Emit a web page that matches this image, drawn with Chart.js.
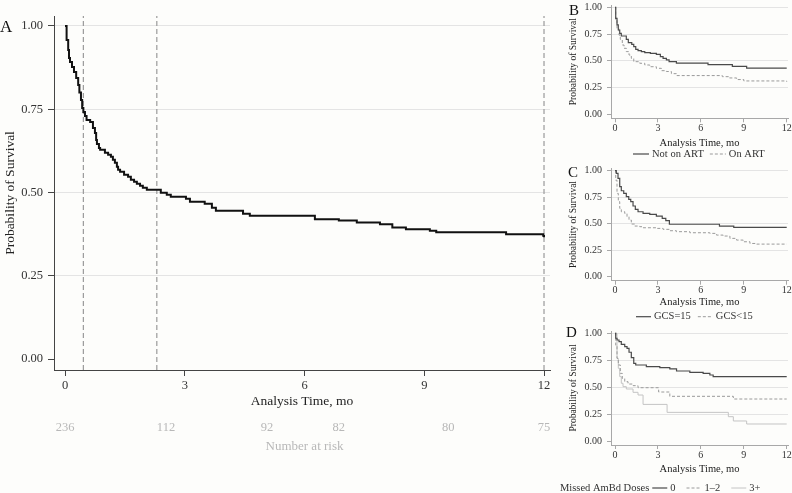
<!DOCTYPE html>
<html>
<head>
<meta charset="utf-8">
<script src="https://cdn.jsdelivr.net/npm/chart.js@4"></script>
<style>
  html, body { margin: 0; padding: 0; background: #fdfdfb; }
  #wrap { position: relative; width: 792px; height: 493px; overflow: hidden; }
  canvas { position: absolute; left: 0; top: 0; }
</style>
</head>
<body>
<div id="wrap">
  <canvas id="cA" width="792" height="493"></canvas>
  <canvas id="cB" width="792" height="493"></canvas>
  <canvas id="cC" width="792" height="493"></canvas>
  <canvas id="cD" width="792" height="493"></canvas>
</div>
<script>
// ---- данные (месяцы / доля выживших) ----
const xTicks = [0, 3, 6, 9, 12];
const yTicks = [0, 0.25, 0.5, 0.75, 1];

// A: все пациенты
const allTime = [0, 0.04, 0.08, 0.10, 0.125, 0.175, 0.225, 0.28, 0.33, 0.36, 0.40, 0.43, 0.46, 0.50, 0.54, 0.63, 0.70, 0.75, 0.78, 0.80, 0.85, 0.88, 1.00, 1.08, 1.15, 1.20, 1.25, 1.30, 1.33, 1.38, 1.48, 1.58, 1.65, 1.73, 1.80, 1.88, 1.95, 2.05, 2.40, 2.55, 2.65, 3.03, 3.13, 3.50, 3.68, 3.78, 4.46, 4.63, 6.26, 6.86, 7.31, 7.89, 8.20, 8.54, 9.14, 9.30, 11.05, 11.98, 12.0];
const allSurv = [1.00, 0.958, 0.928, 0.904, 0.892, 0.877, 0.862, 0.844, 0.823, 0.80, 0.778, 0.754, 0.742, 0.73, 0.718, 0.712, 0.694, 0.679, 0.658, 0.646, 0.634, 0.628, 0.619, 0.613, 0.607, 0.598, 0.589, 0.577, 0.568, 0.562, 0.553, 0.547, 0.538, 0.532, 0.526, 0.520, 0.514, 0.508, 0.499, 0.493, 0.487, 0.481, 0.472, 0.466, 0.454, 0.445, 0.436, 0.430, 0.420, 0.416, 0.410, 0.405, 0.395, 0.390, 0.385, 0.381, 0.375, 0.370, 0.366];
const refTimes = [0.46, 2.3, 12];
const riskTimes = [0, 2.53, 5.06, 6.86, 9.6, 12];
const riskCounts = [236, 112, 92, 82, 80, 75];

// B: АРТ
const noArtTime = [0, 0.05, 0.14, 0.23, 0.33, 0.44, 0.79, 0.93, 1.17, 1.31, 1.45, 1.61, 1.84, 2.08, 2.47, 2.89, 3.17, 3.36, 3.59, 3.78, 4.29, 6.5, 8.2, 9.2, 12];
const noArtSurv = [1.0, 0.897, 0.835, 0.788, 0.757, 0.732, 0.70, 0.67, 0.654, 0.632, 0.607, 0.595, 0.586, 0.576, 0.57, 0.561, 0.539, 0.523, 0.508, 0.492, 0.478, 0.465, 0.448, 0.432, 0.432];
const onArtTime = [0, 0.05, 0.14, 0.28, 0.37, 0.51, 0.63, 0.79, 0.98, 1.14, 1.31, 1.73, 2.08, 2.43, 2.89, 3.24, 3.59, 3.94, 4.29, 7.5, 8.0, 8.5, 9.0, 12];
const onArtSurv = [1.0, 0.88, 0.80, 0.74, 0.70, 0.648, 0.617, 0.586, 0.554, 0.523, 0.492, 0.477, 0.461, 0.445, 0.43, 0.408, 0.40, 0.38, 0.362, 0.352, 0.34, 0.325, 0.312, 0.305];

// C: GCS
const gcs15Time = [0, 0.09, 0.21, 0.33, 0.44, 0.61, 0.79, 0.96, 1.1, 1.26, 1.42, 1.61, 1.96, 2.43, 2.89, 3.3, 3.55, 3.8, 7.3, 8.3, 12];
const gcs15Surv = [1.0, 0.975, 0.928, 0.849, 0.811, 0.786, 0.755, 0.73, 0.708, 0.667, 0.635, 0.613, 0.597, 0.588, 0.572, 0.55, 0.53, 0.495, 0.478, 0.465, 0.465];
const gcsLowTime = [0, 0.05, 0.14, 0.23, 0.33, 0.44, 0.68, 0.84, 0.98, 1.14, 1.38, 1.73, 1.96, 2.89, 3.36, 3.83, 4.29, 5.23, 6.63, 7.09, 7.56, 8.03, 8.49, 8.96, 9.43, 9.9, 12];
const gcsLowSurv = [1.0, 0.91, 0.786, 0.708, 0.645, 0.613, 0.597, 0.566, 0.535, 0.497, 0.478, 0.472, 0.462, 0.456, 0.447, 0.434, 0.425, 0.415, 0.409, 0.393, 0.384, 0.362, 0.346, 0.33, 0.314, 0.308, 0.308];

// D: пропущенные дозы AmBd
const miss0Time = [0, 0.05, 0.14, 0.28, 0.44, 0.68, 0.84, 0.98, 1.14, 1.31, 1.45, 2.19, 3.13, 3.83, 4.3, 5.23, 6.16, 6.63, 6.86, 12];
const miss0Surv = [1.0, 0.954, 0.938, 0.923, 0.898, 0.876, 0.861, 0.824, 0.774, 0.721, 0.706, 0.69, 0.681, 0.669, 0.65, 0.638, 0.628, 0.613, 0.598, 0.598];
const miss12Time = [0, 0.05, 0.14, 0.23, 0.37, 0.51, 0.68, 0.91, 1.26, 1.61, 3.05, 3.83, 8.27, 12];
const miss12Surv = [1.0, 0.89, 0.768, 0.706, 0.628, 0.582, 0.551, 0.529, 0.514, 0.495, 0.455, 0.415, 0.39, 0.39];
const miss3Time = [0, 0.14, 0.23, 0.33, 0.44, 0.56, 0.79, 1.26, 1.61, 1.96, 3.64, 7.92, 8.27, 9.2, 12];
const miss3Surv = [1.0, 0.768, 0.675, 0.598, 0.536, 0.505, 0.483, 0.452, 0.427, 0.34, 0.266, 0.226, 0.186, 0.158, 0.158];

// ---- отрисовка ----
const FONT = "'Liberation Serif', 'DejaVu Serif', serif";
const W = 792, H = 493;

const toPoints = (times, surv) => times.map((t, i) => ({ x: t, y: surv[i] }));

// подписи панелей, число под риском, легенда
const extrasPlugin = {
  id: "extras",
  afterDraw(chart, args, o) {
    const ctx = chart.ctx;
    const xs = chart.scales.x;
    ctx.save();
    ctx.fillStyle = "#111";
    ctx.textAlign = "left";
    ctx.textBaseline = "alphabetic";
    ctx.font = `${o.letterSize}px ${FONT}`;
    ctx.fillText(o.letter, o.letterX, o.letterY);

    if (o.risk) {
      ctx.fillStyle = "#b8b8b8";
      ctx.textAlign = "center";
      ctx.textBaseline = "middle";
      ctx.font = `12.5px ${FONT}`;
      riskTimes.forEach((t, i) => ctx.fillText(String(riskCounts[i]), xs.getPixelForValue(t), o.risk.y));
      ctx.font = `13px ${FONT}`;
      ctx.fillText("Number at risk", xs.getPixelForValue(6), o.risk.titleY);
    }

    if (o.legend) {
      const lg = o.legend;
      ctx.fillStyle = "#333";
      ctx.textAlign = "left";
      ctx.textBaseline = "middle";
      ctx.font = `${lg.size}px ${FONT}`;
      let x = lg.x;
      if (lg.prefix) {
        ctx.fillText(lg.prefix, x, lg.y);
        x += ctx.measureText(lg.prefix).width + 3;
      }
      chart.data.datasets.filter(d => !d.isRef).forEach(d => {
        ctx.beginPath();
        ctx.strokeStyle = d.borderColor;
        ctx.lineWidth = d.borderWidth;
        ctx.setLineDash(d.borderDash || []);
        ctx.moveTo(x, lg.y);
        ctx.lineTo(x + lg.len, lg.y);
        ctx.stroke();
        ctx.setLineDash([]);
        x += lg.len + 3;
        ctx.fillText(d.label, x, lg.y);
        x += ctx.measureText(d.label).width + lg.gap;
      });
    }
    ctx.restore();
  }
};

function panel(id, cfg) {
  const b = cfg.box;
  const datasets = cfg.series.map(s => ({
    label: s.label,
    data: toPoints(s.time, s.surv),
    stepped: "before",
    borderColor: s.color,
    borderWidth: s.width,
    borderDash: s.dash || [],
    pointRadius: 0,
    fill: false
  }));
  (cfg.refs || []).forEach(t => datasets.push({
    label: "",
    isRef: true,
    data: [{ x: t, y: cfg.yMin }, { x: t, y: cfg.yMax }],
    borderColor: "#9a9a9a",
    borderWidth: 1.2,
    borderDash: [5, 3],
    pointRadius: 0,
    fill: false
  }));

  return new Chart(document.getElementById(id), {
    type: "line",
    data: { datasets },
    options: {
      responsive: false,
      animation: false,
      events: [],
      layout: { padding: { left: b.left - b.yW, top: b.top, right: W - b.right, bottom: H - b.bottom - b.xH } },
      plugins: { legend: { display: false }, tooltip: { enabled: false }, extras: cfg.extras },
      scales: {
        x: {
          type: "linear",
          min: cfg.xMin, max: cfg.xMax,
          afterBuildTicks: s => { s.ticks = xTicks.map(v => ({ value: v })); },
          afterFit: s => { s.height = b.xH; s.paddingLeft = 0; s.paddingRight = 0; },
          ticks: { autoSkip: false, maxRotation: 0, padding: cfg.xPad, color: "#333",
                   font: { family: FONT, size: cfg.tickSize }, callback: v => String(v) },
          grid: { drawOnChartArea: false, tickLength: cfg.tickLen, tickColor: cfg.axisColor, tickWidth: 1 },
          border: { color: cfg.axisColor, width: 1 },
          title: { display: true, text: "Analysis Time, mo", color: "#222", padding: 0,
                   font: { family: FONT, size: cfg.titleSize } }
        },
        y: {
          type: "linear",
          min: cfg.yMin, max: cfg.yMax,
          afterBuildTicks: s => { s.ticks = yTicks.map(v => ({ value: v })); },
          afterFit: s => { s.width = b.yW; s.paddingTop = 0; s.paddingBottom = 0; },
          ticks: { autoSkip: false, padding: cfg.yPad, color: "#333",
                   font: { family: FONT, size: cfg.tickSize }, callback: v => v.toFixed(2) },
          grid: { color: c => (c.tick && c.tick.value === 0 ? "rgba(0,0,0,0)" : "#e4e4e4"),
                  lineWidth: 1, tickLength: cfg.tickLen, tickColor: cfg.axisColor },
          border: { color: cfg.axisColor, width: 1 },
          title: { display: true, text: "Probability of Survival", color: "#222", padding: 0,
                   font: { family: FONT, size: cfg.yTitleSize } }
        }
      }
    },
    plugins: [extrasPlugin]
  });
}

const small = {
  xMin: -0.28, xMax: 12.09, yMin: -0.037, yMax: 1.0215,
  tickSize: 10, titleSize: 10.5, yTitleSize: 9.5, tickLen: 4, xPad: 0, yPad: 5, axisColor: "#a8a8a8"
};
const dark = "#4a4a4a", mid = "#9a9a9a", light = "#c4c4c4";

panel("cA", {
  box: { left: 54, top: 16, right: 550, bottom: 370, yW: 51.8, xH: 39.8 },
  xMin: -0.2756, xMax: 12.15, yMin: -0.033, yMax: 1.030,
  tickSize: 12.5, titleSize: 13.5, yTitleSize: 13.5, tickLen: 6, xPad: 2, yPad: 5, axisColor: "#444",
  series: [{ label: "All", time: allTime, surv: allSurv, color: "#111", width: 2 }],
  refs: refTimes,
  extras: { letter: "A", letterX: 0, letterY: 32, letterSize: 17, risk: { y: 428, titleY: 447 } }
});

panel("cB", Object.assign({}, small, {
  box: { left: 611, top: 5, right: 788, bottom: 118.3, yW: 43, xH: 31.2 },
  series: [
    { label: "Not on ART", time: noArtTime, surv: noArtSurv, color: dark, width: 1.2 },
    { label: "On ART", time: onArtTime, surv: onArtSurv, color: mid, width: 1, dash: [3, 2] }
  ],
  extras: { letter: "B", letterX: 569, letterY: 15, letterSize: 15,
            legend: { x: 633, y: 154, size: 10.5, len: 16, gap: 6 } }
}));

panel("cC", Object.assign({}, small, {
  box: { left: 611, top: 168.4, right: 788, bottom: 280.7, yW: 43, xH: 28 },
  series: [
    { label: "GCS=15", time: gcs15Time, surv: gcs15Surv, color: dark, width: 1.2 },
    { label: "GCS<15", time: gcsLowTime, surv: gcsLowSurv, color: mid, width: 1, dash: [3, 2] }
  ],
  extras: { letter: "C", letterX: 568, letterY: 177, letterSize: 15,
            legend: { x: 636, y: 316.7, size: 10.5, len: 15, gap: 7 } }
}));

panel("cD", Object.assign({}, small, {
  box: { left: 611, top: 331, right: 788, bottom: 445, yW: 43, xH: 30.3 },
  series: [
    { label: "0", time: miss0Time, surv: miss0Surv, color: dark, width: 1.2 },
    { label: "1\u20132", time: miss12Time, surv: miss12Surv, color: mid, width: 1, dash: [3, 2] },
    { label: "3+", time: miss3Time, surv: miss3Surv, color: light, width: 1 }
  ],
  extras: { letter: "D", letterX: 566, letterY: 337, letterSize: 15,
            legend: { x: 560, y: 488, size: 10.5, len: 15, gap: 11, prefix: "Missed AmBd Doses" } }
}));
</script>
</body>
</html>
